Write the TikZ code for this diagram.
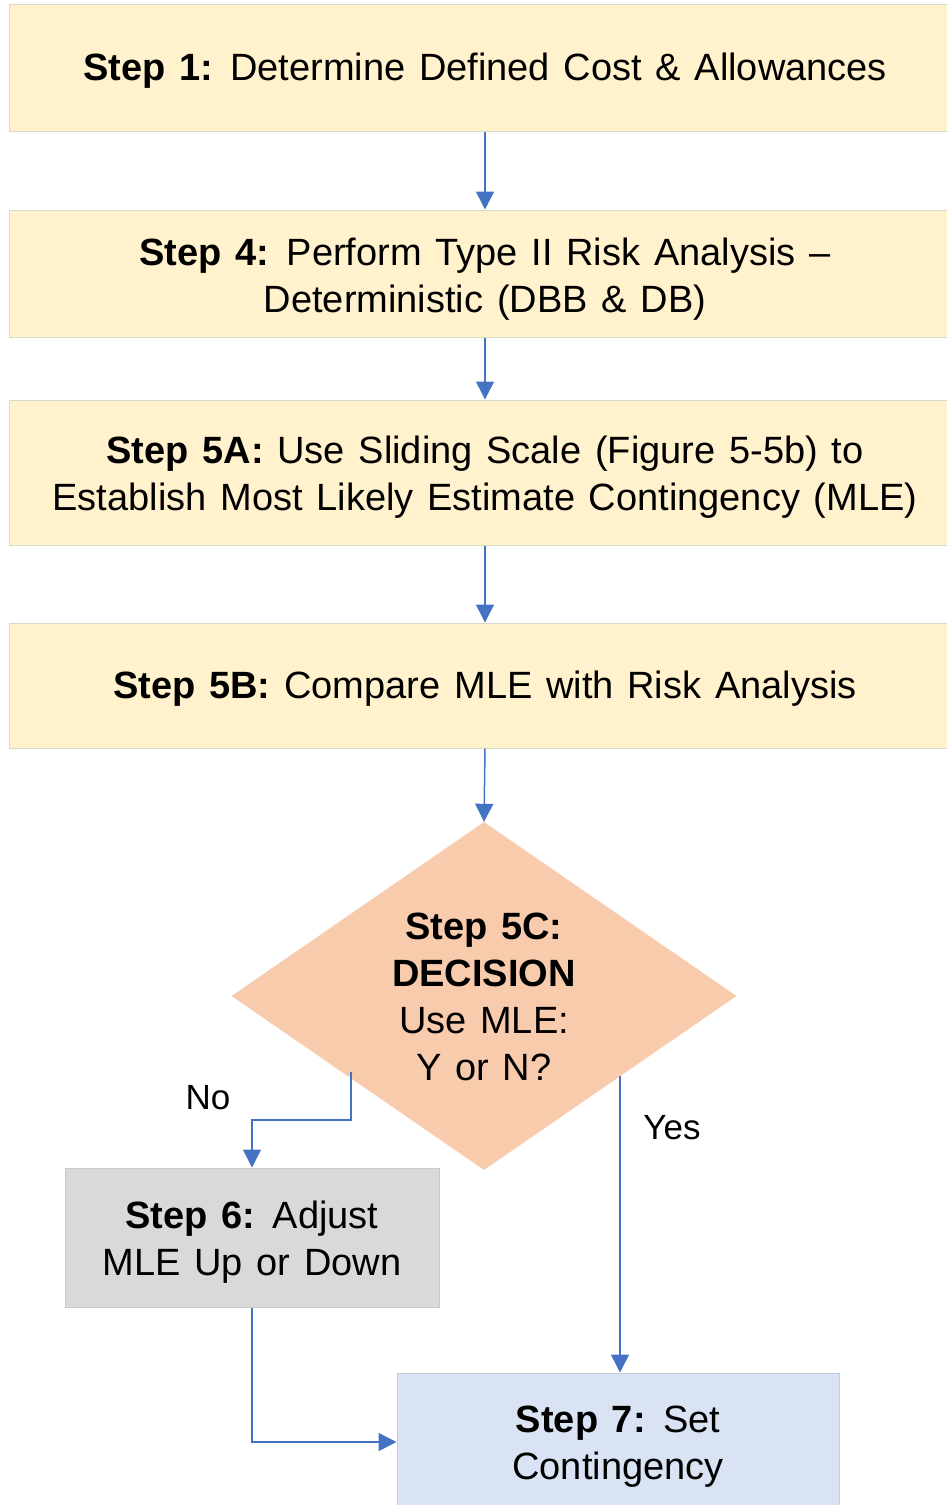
\documentclass[tikz,border=0pt]{standalone}
\usepackage{fontspec}
\setmainfont[WordSpace=1.3]{Liberation Sans}
\usetikzlibrary{arrows.meta,shapes.geometric,calc}
\definecolor{yel}{HTML}{FFF2CC}
\definecolor{yelb}{HTML}{D5DBC6}
\definecolor{dec}{HTML}{F8CBAD}
\definecolor{gry}{HTML}{D9D9D9}
\definecolor{gryb}{HTML}{C4CCC4}
\definecolor{blu}{HTML}{DAE3F3}
\definecolor{blub}{HTML}{C4D0D8}
\definecolor{arr}{HTML}{4472C4}
\begin{document}
\begin{tikzpicture}[x=1pt,y=-1pt,
  every node/.style={font=\fontsize{38}{47}\selectfont, align=center, text=black},
  ybox/.style={draw=yelb, line width=1pt, fill=yel, minimum width=952pt, inner sep=0pt},
  conn/.style={draw=arr, line width=1.5pt, -{Triangle[width=18pt,length=18pt]}},
  lbl/.style={font=\fontsize{35}{42}\selectfont}]
\useasboundingbox (0,0) rectangle (947,1505);
\fill[white] (0,0) rectangle (947,1505);
% boxes
\node[ybox, minimum height=127pt] (s1) at (485,67.5) {};
\node[ybox, minimum height=127pt] (s4) at (485,273.5) {};
\node[ybox, minimum height=145pt] (s5a) at (485,472.5) {};
\node[ybox, minimum height=125pt] (s5b) at (485,685.5) {};
\node[diamond, fill=dec, minimum width=505pt, minimum height=348pt, inner sep=0pt] (dec) at (484,996) {};
\node[draw=gryb, line width=1pt, fill=gry, minimum width=374pt, minimum height=139pt, inner sep=0pt] (s6) at (252,1237.5) {};
\node[draw=blub, line width=1pt, fill=blu, minimum width=442pt, minimum height=138pt, inner sep=0pt] (s7) at (618,1442) {};
% texts
\node (s1t) at (485,70.5) {\textbf{Step 1:} Determine Defined Cost \& Allowances};
\node (s4t) at (485,279.5) {\textbf{Step 4:} Perform Type II Risk Analysis --\\Deterministic (DBB \& DB)};
\node (s5at) at (485,477) {\textbf{Step 5A:} Use Sliding  Scale (Figure 5-5b) to\\Establish Most Likely Estimate Contingency (MLE)};
\node (s5bt) at (485,688.5) {\textbf{Step 5B:} Compare MLE with Risk Analysis};
\node (dect) at (484,997) {\textbf{Step 5C:}\\\textbf{DECISION}\\Use MLE:\\Y or N?};
\node (s6t) at (252,1242) {\textbf{Step 6:} Adjust\\MLE Up or Down};
\node (s7t) at (618,1446.5) {\textbf{Step 7:} Set\\Contingency};
% connectors
\coordinate (noS) at (351,1072);
\coordinate (yesS) at (620,1076);
\draw[conn] (s1.south) -- (s4.north);
\draw[conn] (s4.south) -- (s5a.north);
\draw[conn] (s5a.south) -- (s5b.north);
\draw[conn] (s5b.south) -- (dec.north);
\draw[conn] (noS) -- ++(0,48) -| (s6.north);
\draw[conn] (yesS) -- (yesS |- s7.north);
\draw[conn] (s6.south) |- (s7.west);
\node[lbl] (no) at (208,1098) {No};
\node[lbl] (yes) at (672,1128) {Yes};
\end{tikzpicture}
\end{document}
